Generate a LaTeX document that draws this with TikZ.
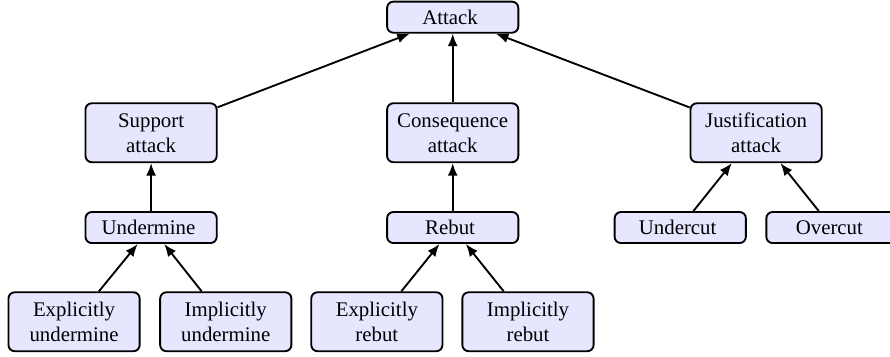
\documentclass[tikz,border=0pt]{standalone}
\usepackage{fontspec}
\setmainfont{Liberation Serif}
\usepackage{tikz}
\usetikzlibrary{arrows.meta}
\definecolor{boxfill}{RGB}{230, 230, 255}

\begin{document}
\begin{tikzpicture}[
    box/.style={draw, rounded corners=3, fill=boxfill, line width=0.9,
      align=center, minimum width=63pt, minimum height=14.9pt,
      inner xsep=3pt, inner ysep=2.8pt},
    tallbox/.style={box, minimum height=28.3pt},
    link/.style={-{Latex[length=6pt, width=4.8pt]}, line width=0.9}]

  \useasboundingbox (0, 0) rectangle (15.02, -6.01);

  % top
  \node[box] (attack) at (7.64, -0.29) { Attack };

  % middle row
  \node[tallbox] (support) at (2.55, -2.24) { Support\\attack };
  \node[tallbox] (consequence) at (7.64, -2.24) { Consequence\\attack };
  \node[tallbox] (justification) at (12.76, -2.24) { Justification\\attack };

  \node[box] (undermine) at (2.55, -3.84) { Undermine };
  \node[box] (rebut) at (7.64, -3.84) { Rebut };
  \node[box] (undercut) at (11.48, -3.84) { Undercut };
  \node[box] (overcut) at (14.04, -3.84) { Overcut };

  % bottom row
  \node[tallbox] (expundermine) at (1.25, -5.43) { Explicitly\\undermine };
  \node[tallbox] (impundermine) at (3.81, -5.43) { Implicitly\\undermine };
  \node[tallbox] (exprebut) at (6.36, -5.43) { Explicitly\\rebut };
  \node[tallbox] (imprebut) at (8.91, -5.43) { Implicitly\\rebut };

  \draw[link] (support) -- (attack);
  \draw[link] (consequence) -- (attack);
  \draw[link] (justification) -- (attack);

  \draw[link] (undermine) -- (support);
  \draw[link] (rebut) -- (consequence);
  \draw[link] (undercut) -- (justification);
  \draw[link] (overcut) -- (justification);

  \draw[link] (expundermine) -- (undermine);
  \draw[link] (impundermine) -- (undermine);
  \draw[link] (exprebut) -- (rebut);
  \draw[link] (imprebut) -- (rebut);

\end{tikzpicture}
\end{document}
